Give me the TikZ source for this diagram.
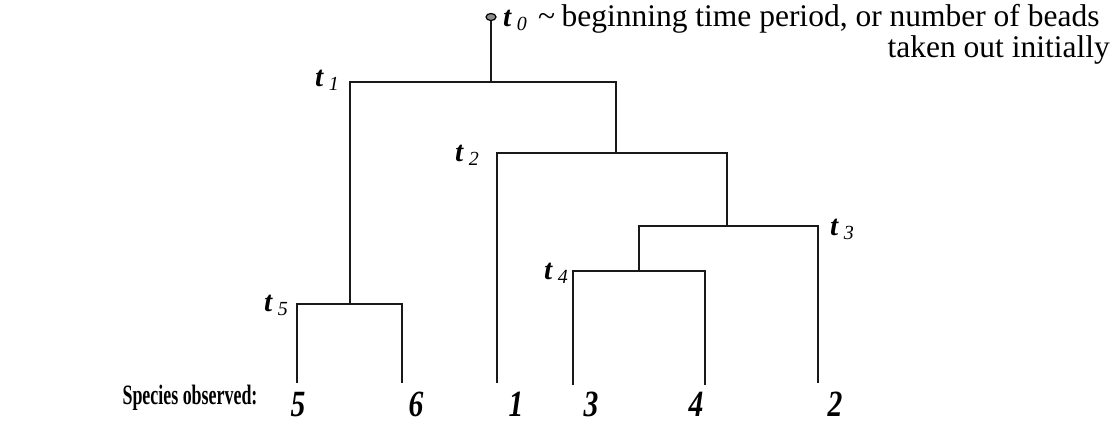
\documentclass[tikz,border=0pt]{standalone}
\usepackage{fontspec}
\setmainfont{Liberation Serif}
\usepackage{graphicx}
\usetikzlibrary{shapes.geometric}
\begin{document}
\begin{tikzpicture}[x=1pt,y=-1pt,
  branch/.style={line width=1.8pt, draw=black!90},
  tlab/.style={inner sep=0pt, font=\fontsize{29}{29}\selectfont},
  leaflab/.style={inner sep=0pt, anchor=base, font=\fontsize{37}{37}\selectfont\bfseries\itshape},
  note/.style={inner sep=0pt, font=\fontsize{31.5}{31.5}\selectfont}]
\newcommand{\tl}[1]{\textbf{\textit{t}}\,\raisebox{-4pt}{\fontsize{20}{20}\selectfont\textit{#1}}}
\useasboundingbox (0,0) rectangle (1117,423);
% junction coordinates
\coordinate (root) at (491,20);
\coordinate (j1) at (491,82);
\coordinate (j2) at (616,153);
\coordinate (j3) at (727,226);
\coordinate (j4) at (639,271);
\coordinate (j5) at (350,304);
\coordinate (l5) at (297,383);
\coordinate (l6) at (402,383);
\coordinate (l1) at (497,383);
\coordinate (l3) at (573,385);
\coordinate (l4) at (705,385);
\coordinate (l2) at (818,383);
% branches
\draw[branch] (l5) |- (j5) -| (l6);
\draw[branch] (l3) |- (j4) -| (l4);
\draw[branch] (j4) |- (j3) -| (l2);
\draw[branch] (l1) |- (j2) -| (j3);
\draw[branch] (j5) |- (j1) -| (j2);
\draw[branch] (j1) -- (root);
\node[draw=black, fill=black!45, line width=1.2pt, ellipse, minimum width=10pt, minimum height=7pt, inner sep=0pt] (mark) at (491,17) {};
% t labels
\node[tlab] (t1) at (327,80) {\tl{1}};
\node[tlab] (t2) at (467,155) {\tl{2}};
\node[tlab] (t3) at (842,229) {\tl{3}};
\node[tlab] (t4) at (556,273) {\tl{4}};
\node[tlab] (t5) at (276,305) {\tl{5}};
% t0 note
\node[tlab, anchor=base west] (t0) at (503,27) {\tl{0}};
\node[note, anchor=base west] (t0a) at (538,27) {\textasciitilde\hspace{0.2em}beginning time period, or number of beads};
\node[note, anchor=base east] (t0b) at (1110,57) {taken out initially};
% leaves
\node[leaflab] (s5) at (298,416) {\scalebox{0.8}[1]{5}};
\node[leaflab] (s6) at (416,416) {\scalebox{0.8}[1]{6}};
\node[leaflab] (s1) at (516,416) {\scalebox{0.8}[1]{1}};
\node[leaflab] (s3) at (591,416) {\scalebox{0.8}[1]{3}};
\node[leaflab] (s4) at (696,416) {\scalebox{0.8}[1]{4}};
\node[leaflab] (s2) at (835,416) {\scalebox{0.8}[1]{2}};
\node[inner sep=0pt, font=\fontsize{28}{28}\selectfont\bfseries] (sp) at (190,398) {\scalebox{0.64}[1]{Species observed:}};
\end{tikzpicture}
\end{document}
